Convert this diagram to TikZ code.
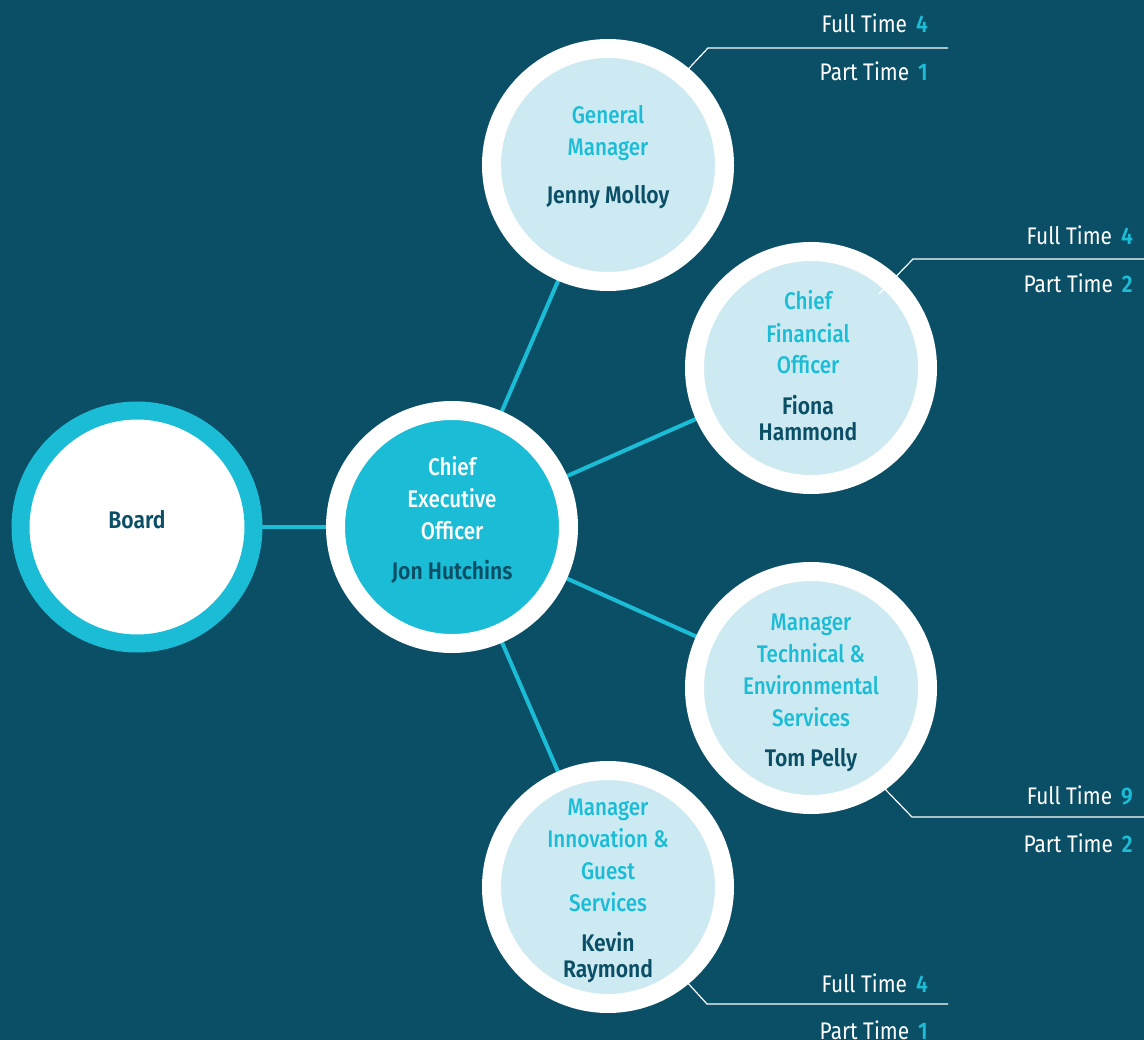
\documentclass[tikz,border=0pt]{standalone}
\usepackage{fontspec}
\setmainfont{Fira Sans}[FakeStretch=0.87]
\newfontfamily\namefont{Fira Sans SemiBold}[FakeStretch=0.88]
\newfontfamily\ttlfont{Fira Sans Medium}[FakeStretch=0.86]
\newfontfamily\cntfont{Fira Sans}[FakeStretch=0.87]
\definecolor{bgc}{HTML}{0A4F66}
\definecolor{cy}{HTML}{1BBCD6}
\definecolor{lb}{HTML}{CDEAF2}
\pgfdeclarelayer{back}
\pgfsetlayers{back,main}
\begin{document}
\begin{tikzpicture}[x=1pt,y=-1pt,
  ringnode/.style={circle,draw=white,line width=19pt,fill=lb,minimum size=233pt,inner sep=0pt},
  ceonode/.style={circle,draw=white,line width=19pt,fill=cy,minimum size=233pt,inner sep=0pt},
  boardnode/.style={circle,draw=cy,line width=18pt,fill=white,minimum size=233pt,inner sep=0pt},
  conn/.style={draw=cy,line width=4pt},
  annot/.style={draw=white,line width=1.2pt},
  ttl/.style={anchor=base,inner sep=0pt,text=cy,font=\fontsize{24}{32}\ttlfont},
  ttlw/.style={ttl,text=white},
  nm/.style={anchor=base,inner sep=0pt,text=bgc,font=\fontsize{24}{32}\namefont},
  cnt/.style={anchor=east,inner sep=0pt,text=white,font=\fontsize{24}{32}\cntfont}
]
\begin{pgfonlayer}{back}
  \fill[bgc] (0,0) rectangle (1144,1040);
\end{pgfonlayer}
\useasboundingbox (0,0) rectangle (1144,1040);

% circles
\node[boardnode] (board) at (137,527) {};
\node[ceonode] (ceo) at (452,527) {};
\node[ringnode] (gm) at (608,165) {};
\node[ringnode] (cfo) at (811,368) {};
\node[ringnode] (mtes) at (811,688) {};
\node[ringnode] (migs) at (608,887) {};

% connectors
\begin{pgfonlayer}{back}
  \draw[conn] (board.center) -- (ceo.center);
  \draw[conn] (ceo.center) -- (gm.center);
  \draw[conn] (ceo.center) -- (cfo.center);
  \draw[conn] (ceo.center) -- (mtes.center);
  \draw[conn] (ceo.center) -- (migs.center);
\end{pgfonlayer}

% texts in circles
\node[nm] (boardt) at (137,528.5) {Board};

\node[ttlw] (ceo1) at (452,475.5) {Chief};
\node[ttlw] (ceo2) at (452,507.5) {Executive};
\node[ttlw] (ceo3) at (452,539.5) {Officer};
\node[nm] (ceo4) at (452,579.5) {Jon Hutchins};

\node[ttl] (gm1) at (608,123.5) {General};
\node[ttl] (gm2) at (608,155.5) {Manager};
\node[nm] (gm3) at (608,203.5) {Jenny Molloy};

\node[ttl] (cfo1) at (808,309.5) {Chief};
\node[ttl] (cfo2) at (808,342.5) {Financial};
\node[ttl] (cfo3) at (808,373.5) {Officer};
\node[nm] (cfo4) at (808,414.5) {Fiona};
\node[nm] (cfo5) at (808,440.5) {Hammond};

\node[ttl] (mtes1) at (811,630.5) {Manager};
\node[ttl] (mtes2) at (811,662.5) {Technical \&};
\node[ttl] (mtes3) at (811,694.5) {Environmental};
\node[ttl] (mtes4) at (811,726.5) {Services};
\node[nm] (mtes5) at (811,766.5) {Tom Pelly};

\node[ttl] (migs1) at (608,815.5) {Manager};
\node[ttl] (migs2) at (608,847.5) {Innovation \&};
\node[ttl] (migs3) at (608,879.5) {Guest};
\node[ttl] (migs4) at (608,911.5) {Services};
\node[nm] (migs5) at (608,951.5) {Kevin};
\node[nm] (migs6) at (608,977.5) {Raymond};

% annotation leaders
\coordinate (gma) at (678,80);
\coordinate (gmb) at (708,48);
\coordinate (gmc) at (948,48);
\draw[annot] (gma) -- (gmb) -- (gmc);
\coordinate (cfoa) at (879,294);
\coordinate (cfob) at (913,259);
\coordinate (cfoc) at (1144,259);
\draw[annot] (cfoa) -- (cfob) -- (cfoc);
\coordinate (mtesa) at (884,788);
\coordinate (mtesb) at (912,817);
\coordinate (mtesc) at (1144,817);
\draw[annot] (mtesa) -- (mtesb) -- (mtesc);
\coordinate (migsa) at (686,981);
\coordinate (migsb) at (707,1004);
\coordinate (migsc) at (948,1004);
\draw[annot] (migsa) -- (migsb) -- (migsc);

% counts
\node[cnt] (gmft) at (928,23) {Full Time\hspace{9pt}{\namefont\color{cy}4}};
\node[cnt] (gmpt) at (928,71) {Part Time\hspace{9pt}{\namefont\color{cy}1}};
\node[cnt] (cfoft) at (1133,235) {Full Time\hspace{9pt}{\namefont\color{cy}4}};
\node[cnt] (cfopt) at (1133,283) {Part Time\hspace{9pt}{\namefont\color{cy}2}};
\node[cnt] (mtesft) at (1133,795) {Full Time\hspace{9pt}{\namefont\color{cy}9}};
\node[cnt] (mtespt) at (1133,843) {Part Time\hspace{9pt}{\namefont\color{cy}2}};
\node[cnt] (migsft) at (928,983) {Full Time\hspace{9pt}{\namefont\color{cy}4}};
\node[cnt] (migspt) at (928,1030) {Part Time\hspace{9pt}{\namefont\color{cy}1}};
\end{tikzpicture}
\end{document}
